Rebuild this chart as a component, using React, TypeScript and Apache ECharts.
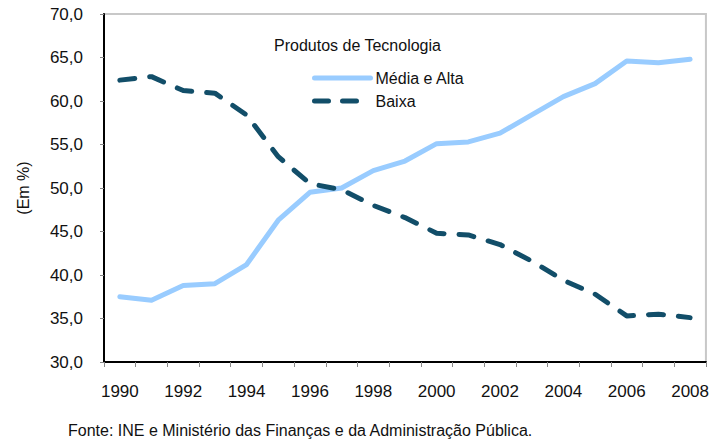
import React, { useEffect, useRef } from "react";
import * as echarts from "echarts";

const years = ["1990","1991","1992","1993","1994","1995","1996","1997","1998","1999","2000","2001","2002","2003","2004","2005","2006","2007","2008"];
const mediaAlta = [37.5, 37.1, 38.8, 39.0, 41.2, 46.3, 49.5, 50.0, 52.0, 53.1, 55.1, 55.3, 56.3, 58.4, 60.5, 62.0, 64.6, 64.4, 64.8];
const baixa = [62.4, 62.8, 61.2, 60.9, 58.4, 53.6, 50.5, 49.8, 48.0, 46.6, 44.8, 44.6, 43.5, 41.6, 39.4, 37.8, 35.3, 35.5, 35.1];
const legendTitle = "Produtos de Tecnologia";
const yAxisName = "(Em %)";
const sourceNote = "Fonte: INE e Ministério das Finanças e da Administração Pública.";

const FONT = "'Liberation Sans', Arial, sans-serif";

export default function App() {
  const ref = useRef<HTMLDivElement>(null);
  useEffect(() => {
    if (!ref.current) return;
    const chart = echarts.init(ref.current, null, { renderer: "svg" });
    chart.setOption({
      animation: false,
      backgroundColor: "#ffffff",
      textStyle: { fontFamily: FONT },
      grid: {
        left: 104, right: 6, top: 14, bottom: 82,
        show: true, borderColor: "#c8c8c8", borderWidth: 2, backgroundColor: "transparent",
      },
      legend: {
        orient: "vertical",
        left: 312, top: 70,
        padding: 0,
        itemWidth: 56, itemHeight: 16, itemGap: 7,
        itemStyle: { opacity: 0 },
        lineStyle: { width: 5, cap: "round" },
        textStyle: { fontFamily: FONT, fontSize: 16, color: "#111" },
        data: [
          { name: "Média e Alta", lineStyle: { width: 5, cap: "round" } },
          { name: "Baixa", lineStyle: { width: 5, cap: "round", type: [14, 14] } },
        ],
      },
      graphic: [
        { type: "text", left: 274, top: 37, style: { text: legendTitle, font: `16px ${FONT}`, fill: "#111" } },
        { type: "text", left: 68, top: 422, style: { text: sourceNote, font: `16px ${FONT}`, fill: "#111" } },
      ],
      xAxis: {
        type: "category",
        data: years,
        boundaryGap: true,
        axisLine: { lineStyle: { color: "#000", width: 2 } },
        axisTick: { show: true, interval: 0, length: 5, lineStyle: { color: "#888", width: 1 } },
        axisLabel: { interval: 1, margin: 21, fontSize: 17, color: "#111", fontFamily: FONT },
      },
      yAxis: {
        type: "value",
        min: 30, max: 70, interval: 5,
        name: yAxisName,
        nameLocation: "middle",
        nameGap: 73,
        nameTextStyle: { fontSize: 16, color: "#111", fontFamily: FONT },
        axisLine: { show: true, lineStyle: { color: "#000", width: 2 } },
        axisTick: { show: true, length: 4, lineStyle: { color: "#888" } },
        splitLine: { show: false },
        axisLabel: {
          margin: 21, fontSize: 17, color: "#111", fontFamily: FONT,
          formatter: (v: number) => v.toFixed(1).replace(".", ","),
        },
      },
      series: [
        {
          name: "Média e Alta",
          type: "line",
          data: mediaAlta,
          symbol: "none",
          lineStyle: { color: "#99ccff", width: 5, cap: "round", join: "round" },
          itemStyle: { color: "#99ccff" },
        },
        {
          name: "Baixa",
          type: "line",
          data: baixa,
          symbol: "none",
          lineStyle: { color: "#124e69", width: 5, type: [15, 15], cap: "round", join: "round" },
          itemStyle: { color: "#124e69" },
        },
      ],
    });
    return () => chart.dispose();
  }, []);
  return <div ref={ref} style={{ width: 712, height: 444, position: "absolute", left: 0, top: 0 }} />;
}
